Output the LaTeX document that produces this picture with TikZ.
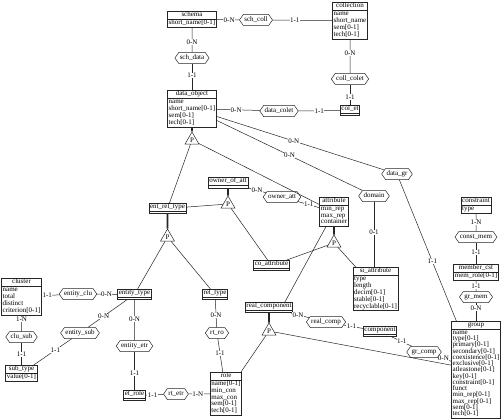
\documentclass[tikz,border=0pt]{standalone}
\usepackage{fontspec}
\setmainfont{Liberation Serif}
\usetikzlibrary{shapes.multipart,shapes.symbols,shapes.geometric,calc}
\newcommand\erfont{\fontsize{7}{6.6}\selectfont}
\newcommand\rws[1]{\begin{tabular}{@{}l@{}}#1\end{tabular}}
\newcommand\rwsg[1]{\def\arraystretch{0.95}\begin{tabular}{@{}l@{}}#1\end{tabular}}
\newcommand\sm[1]{\smash{#1}}
\newcommand\nor{\rule{0pt}{1pt}}
\begin{document}
\begin{tikzpicture}[x=1pt,y=-1pt,
 ent/.style={rectangle split, rectangle split parts=2, rectangle split part align={center,left},
   draw=black!85, line width=0.6pt, fill=white, inner xsep=1.2pt, inner ysep=0.35pt, font=\erfont, anchor=north},
 rel/.style={signal, signal to=east and west, signal pointer angle=110, draw=black!85, line width=0.5pt,
   fill=white, inner xsep=1pt, inner ysep=0.5pt, minimum height=11pt, font=\erfont},
 isa/.style={regular polygon, regular polygon sides=3, draw=black!85, line width=0.5pt, fill=white,
   minimum size=16pt, inner sep=0pt, font=\erfont},
 lbl/.style={font=\erfont, fill=white, inner sep=0.4pt},
 con/.style={draw=black!85, line width=0.5pt},
 isal/.style={draw=black!85, line width=1.6pt}]
\fill[white] (0,0) rectangle (501,420);
\useasboundingbox (0,0) rectangle (501,420);
\clip (0,0) rectangle (501,420);
% entities
\node[ent] (schema) at (192,11) {\strut schema\nodepart{two}\rws{short\_name[0-1]}};
\node[ent] (collection) at (350,2) {\strut collection\nodepart{two}\rws{name\\short\_name\\sem[0-1]\\tech[0-1]}};
\node[ent] (dataobject) at (192,90) {\strut data\_object\nodepart{two}\rws{name\\short\_name[0-1]\\sem[0-1]\\tech[0-1]}};
\node[ent] (colet) at (350,105) {\strut col\_et\nodepart{two}\nor};
\node[ent] (ownerofatt) at (228,177) {\strut owner\_of\_att\nodepart{two}\nor};
\node[ent] (entreltype) at (167.5,203) {\strut ent\_rel\_type\nodepart{two}\nor};
\node[ent] (attribute) at (334,197) {\strut attribute\nodepart{two}\rws{min\_rep\\max\_rep\\container}};
\node[ent] (coattribute) at (271.5,260) {\strut co\_attribute\nodepart{two}\nor};
\node[ent] (siattribute) at (375.5,267) {\strut si\_attribute\nodepart{two}\rws{type\\length\\decim[0-1]\\stable[0-1]\\recyclable[0-1]}};
\node[ent] (constraint) at (476,197) {\strut constraint\nodepart{two}\rws{type}};
\node[ent] (membercst) at (476,264) {\strut member\_cst\nodepart{two}\rws{mem\_role[0-1]}};
\node[ent] (group) at (476,321) {\strut group\nodepart{two}\rwsg{\sm{name}\\\sm{type[0-1]}\\\sm{primary[0-1]}\\\sm{secondary[0-1]}\\\sm{coexistence[0-1]}\\\sm{exclusive[0-1]}\\\sm{atleastone[0-1]}\\\sm{key[0-1]}\\\sm{constraint[0-1]}\\\sm{funct}\\\sm{min\_rep[0-1]}\\\sm{max\_rep[0-1]}\\\sm{sem[0-1]}\\\sm{tech[0-1]}}};
\node[ent] (component) at (380,326) {\strut component\nodepart{two}\nor};
\node[ent] (realcomponent) at (269,302) {\strut real\_component\nodepart{two}\nor};
\node[ent] (role) at (226,372) {\strut role\nodepart{two}\rws{name[0-1]\\min\_con\\max\_con\\sem[0-1]\\tech[0-1]}};
\node[ent] (reltype) at (215,289) {\strut rel\_type\nodepart{two}\nor};
\node[ent] (entitytype) at (134.5,289) {\strut entity\_type\nodepart{two}\nor};
\node[ent] (cluster) at (21.5,278) {\strut cluster\nodepart{two}\rws{name\\total\\distinct\\criterion[0-1]}};
\node[ent] (subtype) at (21.5,365) {\strut sub\_type\nodepart{two}\rws{value[0-1]}};
\node[ent] (etrole) at (134.5,390) {\strut et\_role\nodepart{two}\nor};
% relationships
\node[rel] (schcoll) at (256,20) {\strut sch\_coll};
\node[rel] (schdata) at (192,58) {\strut sch\_data};
\node[rel] (collcolet) at (350,79) {\strut coll\_colet};
\node[rel] (datacolet) at (279,111) {\strut data\_colet};
\node[rel] (owneratt) at (282,197) {\strut owner\_att};
\node[rel] (domain) at (374,196) {\strut domain};
\node[rel] (datagr) at (397,174) {\strut data\_gr};
\node[rel] (constmem) at (476,237) {\strut const\_mem};
\node[rel] (grmem) at (476,297) {\strut gr\_mem};
\node[rel] (entityclu) at (78,294) {\strut entity\_clu};
\node[rel] (clusub) at (21.5,337) {\strut clu\_sub};
\node[rel] (entitysub) at (80,333) {\strut entity\_sub};
\node[rel] (entityetr) at (134.5,346) {\strut entity\_etr};
\node[rel] (rtetr) at (176,394) {\strut rt\_etr};
\node[rel] (rtro) at (217,333) {\strut rt\_ro};
\node[rel] (realcomp) at (326,322) {\strut real\_comp};
\node[rel] (grcomp) at (424,352) {\strut gr\_comp};
% is-a triangles
\node[isa] (tri1) at (192,140) {P};
\node[isa] (tri2) at (228,204) {P};
\node[isa] (tri3) at (167.5,237) {P};
\node[isa] (tri4) at (334,243) {P};
\node[isa] (tri5) at (269,331) {P};
% connectors
\draw[con] (schcoll) -- node[lbl,pos=.45]{0-N} (schema);
\draw[con] (schcoll) -- node[lbl,pos=.37]{1-1} (collection);
\draw[con] (schdata) -- node[lbl,pos=.42]{0-N} (schema);
\draw[con] (schdata) -- node[lbl,pos=.44]{1-1} (dataobject);
\draw[con] (collcolet) -- node[lbl,pos=.6]{0-N} (collection);
\draw[con] (collcolet) -- node[lbl,pos=.6]{1-1} (colet);
\draw[con] (datacolet) -- node[lbl,pos=.55]{0-N} (dataobject);
\draw[con] (datacolet) -- node[lbl,pos=.5]{1-1} (colet);
\draw[con] (datagr) -- node[lbl,pos=.54]{0-N} (dataobject);
\draw[con] (domain) -- node[lbl,pos=.5]{0-N} (dataobject);
\draw[con] (datagr) -- node[lbl,pos=.58]{1-1} (group);
\draw[con] (domain) -- node[lbl,pos=.47]{0-1} (domain |- siattribute.north);
\draw[con] (owneratt) -- node[lbl,pos=.5]{0-N} (ownerofatt);
\draw[con] (owneratt) -- node[lbl,pos=.5]{1-1} (attribute);
\draw[con] (entityclu) -- node[lbl,pos=.69]{1-1} (cluster);
\draw[con] (entityclu) -- node[lbl,pos=.47]{0-N} (entitytype);
\draw[con] (clusub) -- node[lbl,pos=.74]{1-N} (cluster);
\draw[con] (clusub) -- node[lbl,pos=.52]{1-1} (subtype);
\draw[con] (entitysub) -- node[lbl,pos=.4]{0-N} (entitytype);
\draw[con] (entitysub) -- node[lbl,pos=.43]{1-1} (subtype);
\draw[con] (entityetr) -- node[lbl,pos=.52]{0-N} (entitytype);
\draw[con] (entityetr) -- node[lbl,pos=.55]{1-1} (etrole);
\draw[con] (rtetr) -- node[lbl,pos=.62]{1-1} (etrole);
\draw[con] (rtetr) -- node[lbl,pos=.43]{1-N} (role);
\draw[con] (rtro) -- node[lbl,pos=.43]{0-N} (reltype);
\draw[con] (rtro) -- node[lbl,pos=.44]{1-1} (role);
\draw[con] (realcomp) -- node[lbl,pos=.6]{0-N} (realcomponent);
\draw[con] (realcomp) -- node[lbl,pos=.4]{1-1} (component);
\draw[con] (grcomp) -- node[lbl,pos=.5]{1-1} (component);
\draw[con] (grcomp) -- node[lbl,pos=.4]{0-N} (group);
\draw[con] (constmem) -- node[lbl,pos=.5]{1-N} (constraint);
\draw[con] (constmem) -- node[lbl,pos=.45]{1-1} (membercst);
\draw[con] (grmem) -- node[lbl,pos=.46]{1-1} (membercst);
\draw[con] (grmem) -- node[lbl,pos=.3]{0-N} (group);
% is-a links
\draw[isal] (dataobject.south) -- (tri1.north);
\draw[con] (tri1) -- (entreltype);
\draw[con] (tri1) -- (attribute);
\draw[isal] (ownerofatt.south) -- (tri2.north);
\draw[con] (tri2) -- (entreltype);
\draw[con] (tri2) -- (coattribute);
\draw[isal] (entreltype.south) -- (tri3.north);
\draw[con] (tri3) -- (entitytype);
\draw[con] (tri3) -- (reltype);
\draw[isal] (attribute.south) -- (tri4.north);
\draw[con] (tri4) -- (coattribute);
\draw[con] (tri4) -- (siattribute);
\draw[isal] (realcomponent.south) -- (tri5.north);
\draw[con] (tri5) -- (role);
\draw[con] (tri5) -- (group);
\draw[con] (attribute) -- ($(realcomponent.north west)!0.83!(realcomponent.north east)$);
\end{tikzpicture}
\end{document}
